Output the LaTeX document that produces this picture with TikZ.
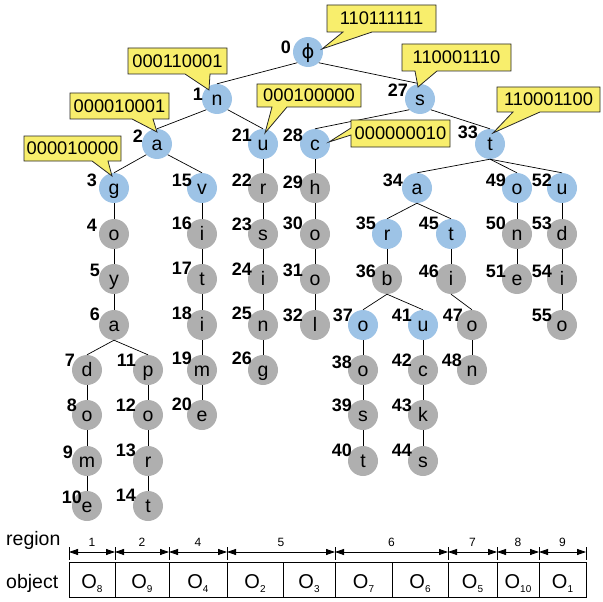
\documentclass[tikz,border=0pt]{standalone}
\usepackage{fontspec}
\setmainfont{Liberation Sans}
\newfontfamily\dejavu{DejaVu Sans}
\usetikzlibrary{arrows.meta}
\definecolor{nodeblue}{RGB}{157,195,230}
\definecolor{nodegray}{RGB}{175,175,175}
\definecolor{calloutyellow}{RGB}{248,238,108}
\newcommand\tnode[7]{%
  \node[#1] (n#2) at (#3,#4) {#5};
  \node[numlab] (l#2) at (#3-#6,#4-#7) {#2};}
\newcommand\Ob[1]{{\fontsize{20}{20}\selectfont O}\raisebox{-4pt}{\fontsize{10}{10}\selectfont #1}}
\tikzset{
 tn/.style={circle, minimum size=30pt, inner sep=0pt, text height=12.5pt, text depth=0pt,
   font=\fontsize{19.5}{19.5}\selectfont},
 bn/.style={tn, fill=nodeblue},
 gn/.style={tn, fill=nodegray},
 numlab/.style={anchor=east, inner sep=0pt, font=\fontsize{18}{18}\selectfont\bfseries},
 edge/.style={draw=black, line width=0.7pt},
 callout/.style={draw=black!85, line width=0.8pt, fill=calloutyellow, line join=miter},
 ctext/.style={inner sep=0pt, font=\fontsize{18.3}{18.3}\selectfont},
 tickline/.style={line width=0.8pt},
 regarrow/.style={line width=0.8pt, {Triangle[length=9pt,width=6pt]}-{Triangle[length=9pt,width=6pt]}},
 reglab/.style={anchor=base, inner sep=0pt, font=\fontsize{12}{12}\selectfont},
 sidelab/.style={anchor=base west, inner sep=0pt, font=\fontsize{19.5}{19.5}\selectfont},
 objbox/.style={draw=black, line width=0.8pt},
 objlab/.style={anchor=base, inner sep=0pt},
}
\begin{document}
\begin{tikzpicture}[x=1pt,y=-1pt]
\useasboundingbox (0,0) rectangle (603,602);
% nodes
\tnode{bn}{0}{308}{52}{{\dejavu ϕ}}{17}{5}
\tnode{bn}{1}{217}{99}{n}{14}{5}
\tnode{bn}{2}{157}{144}{a}{14}{8}
\tnode{bn}{3}{114}{188}{g}{17}{8}
\tnode{gn}{4}{114}{234}{o}{17}{9}
\tnode{gn}{5}{114}{279}{y}{14}{9}
\tnode{gn}{6}{114}{325}{a}{14}{11}
\tnode{gn}{7}{87}{370}{d}{12}{10}
\tnode{gn}{8}{87}{415}{o}{10}{10}
\tnode{gn}{9}{87}{461}{m}{14}{9}
\tnode{gn}{10}{87}{506}{e}{5}{9}
\tnode{gn}{11}{148}{370}{p}{12}{10}
\tnode{gn}{12}{148}{415}{o}{12}{10}
\tnode{gn}{13}{148}{461}{r}{12}{11}
\tnode{gn}{14}{148}{506}{t}{12}{11}
\tnode{bn}{15}{202}{188}{v}{10}{8}
\tnode{gn}{16}{202}{234}{i}{10}{11}
\tnode{gn}{17}{202}{279}{t}{10}{11}
\tnode{gn}{18}{202}{325}{i}{10}{12}
\tnode{gn}{19}{202}{370}{m}{10}{12}
\tnode{gn}{20}{202}{415}{e}{10}{11}
\tnode{bn}{21}{263}{144}{u}{11}{9}
\tnode{gn}{22}{263}{188}{r}{11}{8}
\tnode{gn}{23}{263}{234}{s}{11}{10}
\tnode{gn}{24}{263}{279}{i}{11}{10}
\tnode{gn}{25}{263}{325}{n}{11}{12}
\tnode{gn}{26}{263}{370}{g}{11}{12}
\tnode{bn}{27}{420}{99}{s}{12}{9}
\tnode{bn}{28}{315}{144}{c}{12}{9}
\tnode{gn}{29}{315}{188}{h}{12}{6}
\tnode{gn}{30}{315}{234}{o}{12}{11}
\tnode{gn}{31}{315}{279}{o}{12}{9}
\tnode{gn}{32}{315}{325}{l}{12}{10}
\tnode{bn}{33}{490}{144}{t}{12}{12}
\tnode{bn}{34}{417}{188}{a}{14}{8}
\tnode{bn}{35}{387}{234}{r}{11}{11}
\tnode{gn}{36}{387}{279}{b}{11}{8}
\tnode{bn}{37}{363}{325}{o}{10}{10}
\tnode{gn}{38}{363}{370}{o}{11}{8}
\tnode{gn}{39}{363}{415}{s}{11}{10}
\tnode{gn}{40}{363}{461}{t}{11}{11}
\tnode{bn}{41}{423}{325}{u}{11}{10}
\tnode{gn}{42}{423}{370}{c}{11}{10}
\tnode{gn}{43}{423}{415}{k}{11}{10}
\tnode{gn}{44}{423}{461}{s}{11}{11}
\tnode{bn}{45}{451}{234}{t}{12}{11}
\tnode{gn}{46}{451}{279}{i}{12}{8}
\tnode{gn}{47}{472}{325}{o}{9}{10}
\tnode{gn}{48}{472}{370}{n}{10}{10}
\tnode{bn}{49}{517}{188}{o}{11}{8}
\tnode{gn}{50}{517}{234}{n}{11}{11}
\tnode{gn}{51}{517}{279}{e}{11}{8}
\tnode{bn}{52}{562}{188}{u}{10}{8}
\tnode{gn}{53}{562}{234}{d}{10}{11}
\tnode{gn}{54}{562}{279}{i}{10}{8}
\tnode{gn}{55}{562}{325}{o}{10}{10}
% edges
\draw[edge] (n0.south west) -- (n1.north);
\draw[edge] (n0.south east) -- (n27.north);
\draw[edge] (n1.south west) -- (n2.north);
\draw[edge] (n1.south east) -- (n21.north);
\draw[edge] (n2.south west) -- (n3.north);
\draw[edge] (n2.south east) -- (n15.north);
\draw[edge] (n3.south) -- (n4.north);
\draw[edge] (n4.south) -- (n5.north);
\draw[edge] (n5.south) -- (n6.north);
\draw[edge] (n6.south) -- (n7.north);
\draw[edge] (n6.south) -- (n11.north);
\draw[edge] (n7.south) -- (n8.north);
\draw[edge] (n8.south) -- (n9.north);
\draw[edge] (n9.south) -- (n10.north);
\draw[edge] (n11.south) -- (n12.north);
\draw[edge] (n12.south) -- (n13.north);
\draw[edge] (n13.south) -- (n14.north);
\draw[edge] (n15.south) -- (n16.north);
\draw[edge] (n16.south) -- (n17.north);
\draw[edge] (n17.south) -- (n18.north);
\draw[edge] (n18.south) -- (n19.north);
\draw[edge] (n19.south) -- (n20.north);
\draw[edge] (n21.south) -- (n22.north);
\draw[edge] (n22.south) -- (n23.north);
\draw[edge] (n23.south) -- (n24.north);
\draw[edge] (n24.south) -- (n25.north);
\draw[edge] (n25.south) -- (n26.north);
\draw[edge] (n27.south west) -- (n28.north);
\draw[edge] (n27.south east) -- (n33.north);
\draw[edge] (n28.south) -- (n29.north);
\draw[edge] (n29.south) -- (n30.north);
\draw[edge] (n30.south) -- (n31.north);
\draw[edge] (n31.south) -- (n32.north);
\draw[edge] (n33.south) -- (n34.north);
\draw[edge] (n33.south) -- (n49.north);
\draw[edge] (n33.south) -- (n52.north);
\draw[edge] (n34.south) -- (n35.north);
\draw[edge] (n34.south) -- (n45.north);
\draw[edge] (n35.south) -- (n36.north);
\draw[edge] (n36.south) -- (n37.north);
\draw[edge] (n36.south) -- (n41.north);
\draw[edge] (n37.south) -- (n38.north);
\draw[edge] (n38.south) -- (n39.north);
\draw[edge] (n39.south) -- (n40.north);
\draw[edge] (n41.south) -- (n42.north);
\draw[edge] (n42.south) -- (n43.north);
\draw[edge] (n43.south) -- (n44.north);
\draw[edge] (n45.south) -- (n46.north);
\draw[edge] (n46.south) -- (n47.north);
\draw[edge] (n47.south) -- (n48.north);
\draw[edge] (n49.south) -- (n50.north);
\draw[edge] (n50.south) -- (n51.north);
\draw[edge] (n52.south) -- (n53.north);
\draw[edge] (n53.south) -- (n54.north);
\draw[edge] (n54.south) -- (n55.north);
% callouts
\draw[callout] (327,5) -- (436,5) -- (436,32) -- (372,32) -- (322,49) -- (343,32) -- (327,32) -- cycle;
\node[ctext] (c0) at (381.5,18.5) {110111111};
\draw[callout] (128,48) -- (227,48) -- (227,74) -- (210,74) -- (209,90) -- (185,74) -- (128,74) -- cycle;
\node[ctext] (c1) at (177.5,61) {000110001};
\draw[callout] (70,93) -- (169,93) -- (169,119) -- (153,119) -- (157,132) -- (132,119) -- (70,119) -- cycle;
\node[ctext] (c2) at (119.5,106) {000010001};
\draw[callout] (24,136) -- (121,136) -- (121,161) -- (108,161) -- (112,176) -- (92,161) -- (24,161) -- cycle;
\node[ctext] (c3) at (72.5,148.5) {000010000};
\draw[callout] (257,84) -- (361,84) -- (361,107) -- (287,107) -- (265,133) -- (272,107) -- (257,107) -- cycle;
\node[ctext] (c4) at (309,95.5) {000100000};
\draw[callout] (402,44) -- (511,44) -- (511,71) -- (437,71) -- (418,87) -- (415,71) -- (402,71) -- cycle;
\node[ctext] (c5) at (456.5,57.5) {110001110};
\draw[callout] (351,120) -- (450,120) -- (450,147) -- (351,147) -- (351,135) -- (329,142) -- (351,128) -- cycle;
\node[ctext] (c6) at (400.5,133.5) {000000010};
\draw[callout] (497,87) -- (600,87) -- (600,112) -- (540,112) -- (493,133) -- (513,112) -- (497,112) -- cycle;
\node[ctext] (c7) at (548.5,99.5) {110001100};
% region bar
\node[sidelab] (regt) at (6,545) {region};
\node[sidelab] (objt) at (6,588) {object};
\foreach \x in {69,115,169,227,335,448,497,539,586} {\draw[tickline] (\x,547) -- (\x,560);}
\coordinate (r1) at (69,552);
\coordinate (r2) at (115,552);
\coordinate (r3) at (169,552);
\coordinate (r4) at (227,552);
\coordinate (r5) at (335,552);
\coordinate (r6) at (448,552);
\coordinate (r7) at (497,552);
\coordinate (r8) at (539,552);
\coordinate (r9) at (586,552);
\draw[regarrow] (r1) -- (r2);
\draw[regarrow] (r2) -- (r3);
\draw[regarrow] (r3) -- (r4);
\draw[regarrow] (r4) -- (r5);
\draw[regarrow] (r5) -- (r6);
\draw[regarrow] (r6) -- (r7);
\draw[regarrow] (r7) -- (r8);
\draw[regarrow] (r8) -- (r9);
\node[reglab] (g1) at (92,546) {1};
\node[reglab] (g2) at (142,546) {2};
\node[reglab] (g4) at (198,546) {4};
\node[reglab] (g5) at (281,546) {5};
\node[reglab] (g6) at (391.5,546) {6};
\node[reglab] (g7) at (472.5,546) {7};
\node[reglab] (g8) at (518,546) {8};
\node[reglab] (g9) at (562.5,546) {9};
\draw[objbox] (69,562) rectangle (115,597);
\draw[objbox] (115,562) rectangle (169,597);
\draw[objbox] (169,562) rectangle (227,597);
\draw[objbox] (227,562) rectangle (283,597);
\draw[objbox] (283,562) rectangle (335,597);
\draw[objbox] (335,562) rectangle (392,597);
\draw[objbox] (392,562) rectangle (448,597);
\draw[objbox] (448,562) rectangle (497,597);
\draw[objbox] (497,562) rectangle (539,597);
\draw[objbox] (539,562) rectangle (586,597);
\node[objlab] (o8) at (92,588) {\Ob{8}};
\node[objlab] (o9) at (142,588) {\Ob{9}};
\node[objlab] (o4) at (198,588) {\Ob{4}};
\node[objlab] (o2) at (255,588) {\Ob{2}};
\node[objlab] (o3) at (309,588) {\Ob{3}};
\node[objlab] (o7) at (363.5,588) {\Ob{7}};
\node[objlab] (o6) at (420,588) {\Ob{6}};
\node[objlab] (o5) at (472.5,588) {\Ob{5}};
\node[objlab] (o10) at (518,588) {\Ob{10}};
\node[objlab] (o1) at (562.5,588) {\Ob{1}};
\end{tikzpicture}
\end{document}
